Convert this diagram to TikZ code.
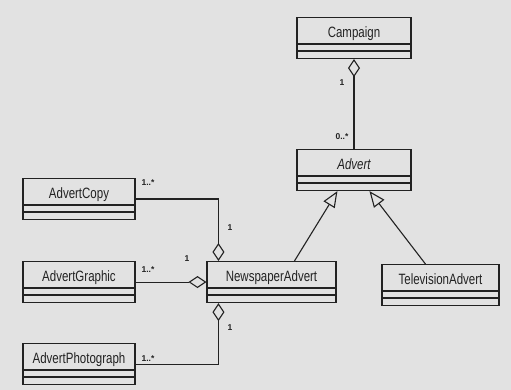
\documentclass[tikz,border=0pt]{standalone}
\usepackage{fontspec}
\setmainfont{Liberation Sans}
\usetikzlibrary{arrows.meta,calc}

\definecolor{ink}{HTML}{222222}
\definecolor{paper}{HTML}{E2E2E2}

\newcommand{\classbox}[1]{\rule[-20.6pt]{0pt}{41pt}\scalebox{1}[1.3]{#1}}

\tikzset{
  umlclass/.style={draw=ink, line width=1.1pt, minimum height=41pt, inner ysep=0pt,
    inner xsep=2pt, anchor=north, text=ink, font=\fontsize{11.5}{13}\selectfont},
  mult/.style={font=\fontsize{8.5}{9}\selectfont\bfseries, text=ink, inner sep=0pt},
  aggr/.style={draw=ink, line width=1.1pt, {Diamond[open,length=18pt,width=12pt]}-},
  inherit/.style={draw=ink, line width=1.1pt, -{Triangle[open,length=16pt,width=13pt]}},
}

\begin{document}
\begin{tikzpicture}[x=1pt,y=-1pt]
\fill[paper] (0,0) rectangle (511,390);

% classes
\node[umlclass, minimum width=114pt] (campaign) at (354,17) {\classbox{Campaign}};
\node[umlclass, minimum width=114pt] (advert) at (354,149) {\classbox{\itshape Advert}};
\node[umlclass, minimum width=112pt] (copy) at (79,178) {\classbox{AdvertCopy}};
\node[umlclass, minimum width=112pt] (graphic) at (79,261) {\classbox{AdvertGraphic}};
\node[umlclass, minimum width=112pt] (photo) at (79,343) {\classbox{AdvertPhotograph}};
\node[umlclass, minimum width=129pt] (news) at (271.5,261) {\classbox{NewspaperAdvert}};
\node[umlclass, minimum width=117pt] (tv) at (440.5,264) {\classbox{TelevisionAdvert}};

% attribute and operation compartments
\foreach \c in {campaign,advert,copy,graphic,photo,news,tv} {
  \draw[ink, line width=1.1pt] ([yshift=-27pt]\c.north west) -- ([yshift=-27pt]\c.north east);
  \draw[ink, line width=1.1pt] ([yshift=-34pt]\c.north west) -- ([yshift=-34pt]\c.north east);
}

% attachment points
\coordinate (newsTop) at ($(news.north west)+(12pt,0)$);
\coordinate (newsBot) at ($(news.south west)+(12pt,0)$);
\coordinate (newsGen) at ($(news.north west)+(88pt,0)$);
\coordinate (tvGen) at ($(tv.north west)+(44pt,0)$);
\coordinate (advNews) at ($(advert.south west)+(41pt,0)$);
\coordinate (advTv) at ($(advert.south west)+(73pt,0)$);

% aggregations
\draw[aggr] (campaign.south) -- (advert.north);
\draw[aggr] (newsTop) |- (copy.east);
\draw[aggr] (news.west) -- (graphic.east);
\draw[aggr] (newsBot) |- (photo.east);

% generalisations
\draw[inherit] (newsGen) -- (advNews);
\draw[inherit] (tvGen) -- (advTv);

% multiplicities
\node[mult] (mCamp) at (342,83) {1};
\node[mult] (mAdv) at (342,137) {0..*};
\node[mult] (mCopy) at (148,183) {1..*};
\node[mult] (mCopyN) at (230,228) {1};
\node[mult] (mGraph) at (148,270) {1..*};
\node[mult] (mGraphN) at (187,259) {1};
\node[mult] (mPhoto) at (148,359) {1..*};
\node[mult] (mPhotoN) at (230,328) {1};
\end{tikzpicture}
\end{document}
